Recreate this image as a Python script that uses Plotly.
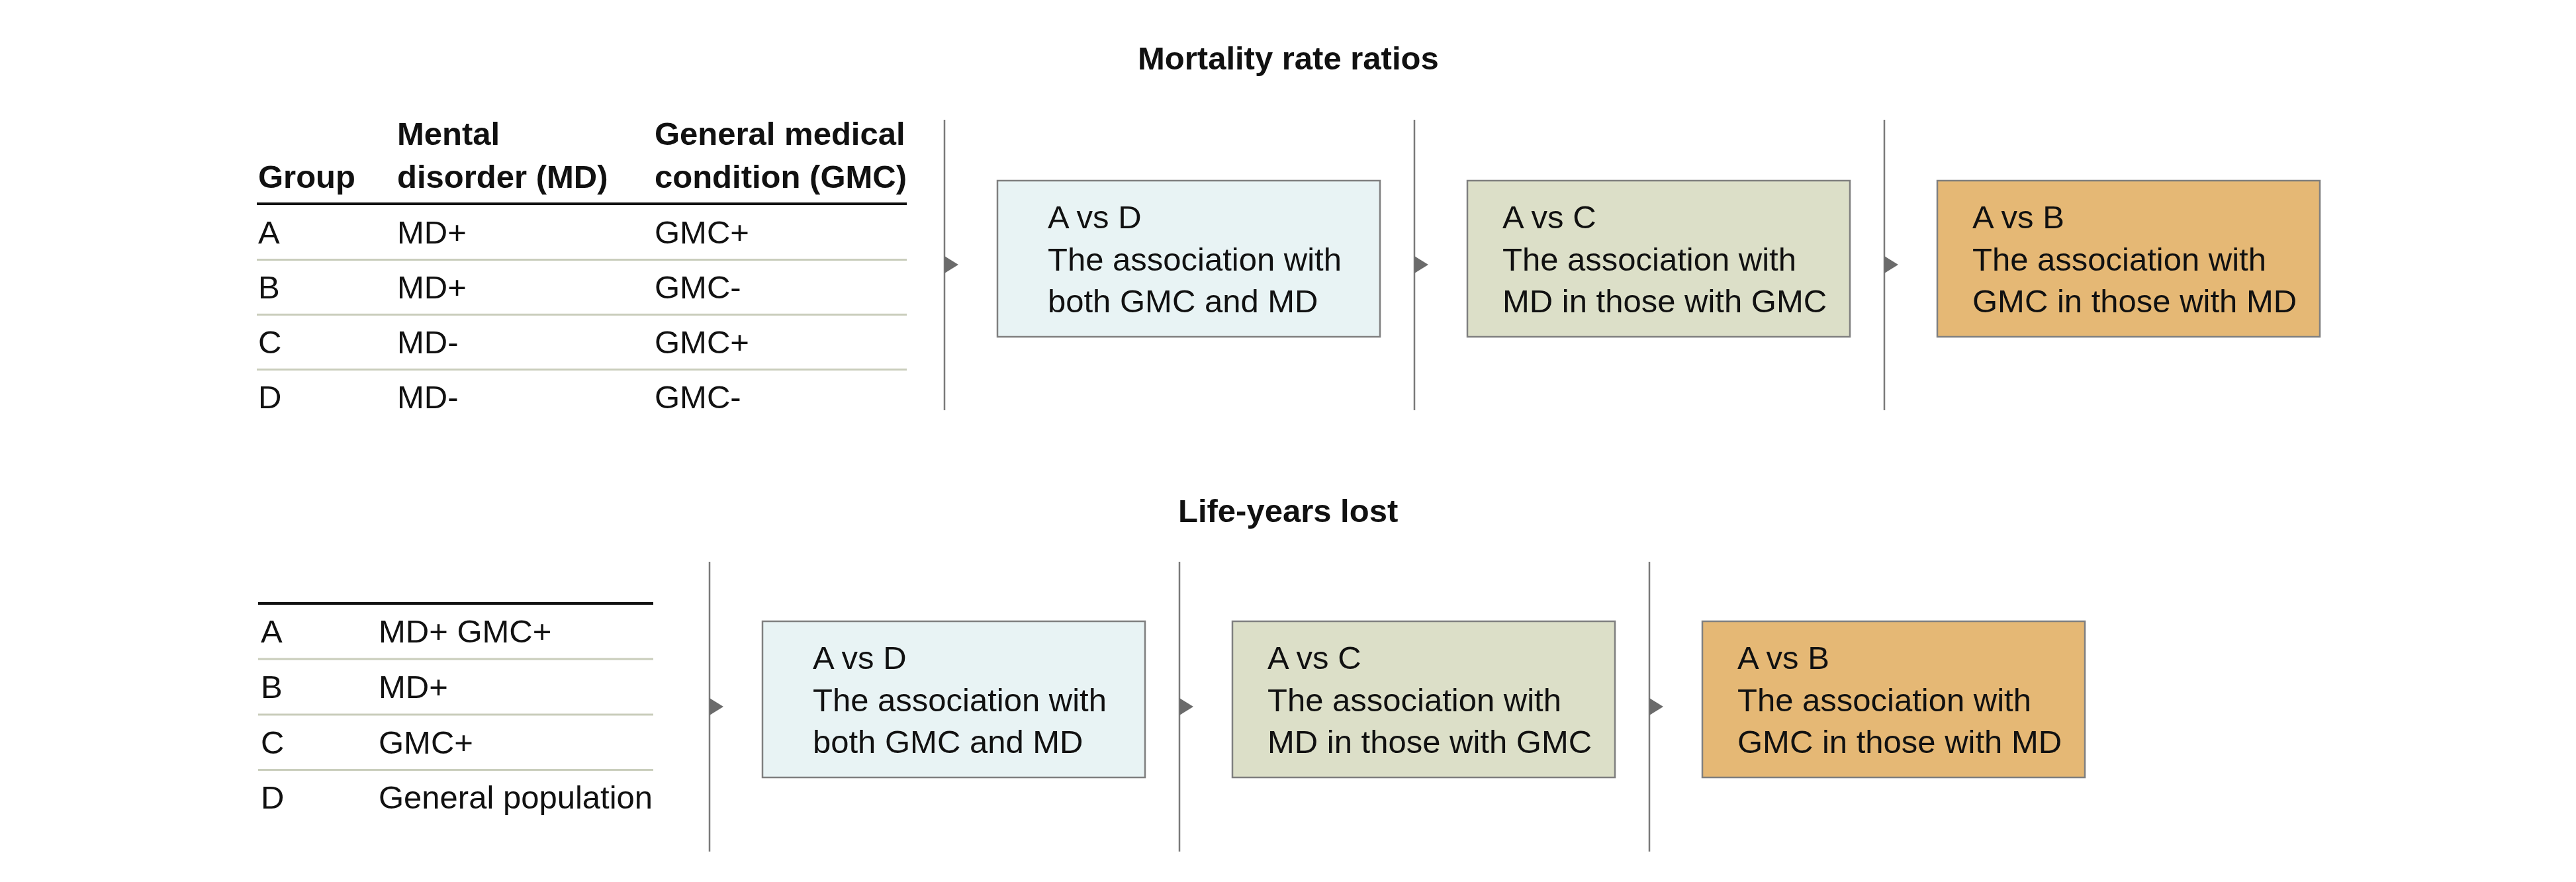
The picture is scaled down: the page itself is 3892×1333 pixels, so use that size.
import plotly.graph_objects as go

# ---------------- data ----------------
mrr_title = "Mortality rate ratios"
lyl_title = "Life-years lost"
header_group = ["", "Group"]
header_md = ["Mental", "disorder (MD)"]
header_gmc = ["General medical", "condition (GMC)"]
groups = ["A", "B", "C", "D"]
md_status = ["MD+", "MD+", "MD-", "MD-"]
gmc_status = ["GMC+", "GMC-", "GMC+", "GMC-"]
lyl_labels = ["MD+ GMC+", "MD+", "GMC+", "General population"]
comparisons = ["A vs D", "A vs C", "A vs B"]
desc_line1 = ["The association with", "The association with", "The association with"]
desc_line2 = ["both GMC and MD", "MD in those with GMC", "GMC in those with MD"]
box_colors = ["#E8F3F4", "#DCDFC8", "#E5B875"]

# ---------------- layout constants ----------------
W, H = 3892, 1333
PAGE_OFF = 8  # default body margin of the html page
FONT = "Liberation Sans, Arial, sans-serif"
FS = 49
TXT = "#111111"
LINE_GRAY = "#7A7A7A"
SEP = "#C9CDBB"
STEP = 710
BOX_W = 578
TEXT_SHIFT = 9

fig = go.Figure()
shapes = []
ann = []


def text(x, y, s, bold=False, xanchor="left", size=FS, align="left"):
    ann.append(dict(x=x, y=y, xref="x", yref="y", text=(f"<b>{s}</b>" if bold else s),
                    showarrow=False, xanchor=xanchor, yanchor="middle", align=align,
                    font=dict(family=FONT, size=size, color=TXT)))


def hline(x0, x1, y, color, width):
    shapes.append(dict(type="line", xref="x", yref="y", x0=x0, x1=x1, y0=y, y1=y,
                       line=dict(color=color, width=width)))


def comparison_panel(vx0, y_top, y_bot, arrow_y, box_y0, box_y1):
    for i in range(3):
        vx = vx0 + i * STEP
        shapes.append(dict(type="line", xref="x", yref="y", x0=vx, x1=vx, y0=y_top, y1=y_bot,
                           line=dict(color=LINE_GRAY, width=2.5)))
        shapes.append(dict(type="path", xref="x", yref="y",
                           path=f"M {vx},{arrow_y-13} L {vx+21},{arrow_y} L {vx},{arrow_y+13} Z",
                           fillcolor="#6B6B6B", line=dict(width=0)))
        bx0 = vx + 80
        bx1 = bx0 + BOX_W
        shapes.append(dict(type="rect", xref="x", yref="y", x0=bx0, x1=bx1, y0=box_y0, y1=box_y1,
                           fillcolor=box_colors[i], line=dict(color="#7F7F7F", width=2.5),
                           layer="below"))
        cx = (bx0 + bx1) / 2 + TEXT_SHIFT
        body = "<br>".join([comparisons[i], desc_line1[i], desc_line2[i]])
        ann.append(dict(x=cx, y=(box_y0 + box_y1) / 2, xref="x", yref="y", text=body,
                        showarrow=False, xanchor="center", yanchor="middle", align="left",
                        font=dict(family=FONT, size=FS, color=TXT)))


# ---------------- top section: mortality rate ratios ----------------
text(W / 2, 88, mrr_title, bold=True, xanchor="center")
col_x = [388, 598, 987]
for j, hdr in enumerate([header_group, header_md, header_gmc]):
    for k, line in enumerate(hdr):
        if line:
            text(col_x[j], [202, 267][k], line, bold=True)
hline(388, 1370, 308, "#111111", 4)
row_y = [351, 434, 517, 600]
for r in range(4):
    text(col_x[0], row_y[r], groups[r])
    text(col_x[1], row_y[r], md_status[r])
    text(col_x[2], row_y[r], gmc_status[r])
    if r < 3:
        hline(388, 1370, (row_y[r] + row_y[r + 1]) / 2, SEP, 3)
comparison_panel(1427, 181, 620, 400, 273, 509)

# ---------------- bottom section: life-years lost ----------------
text(W / 2, 772, lyl_title, bold=True, xanchor="center")
hline(390, 987, 912, "#111111", 4)
row_y2 = [954, 1038, 1122, 1205]
for r in range(4):
    text(392, row_y2[r], groups[r])
    text(570, row_y2[r], lyl_labels[r])
    if r < 3:
        hline(390, 987, (row_y2[r] + row_y2[r + 1]) / 2, SEP, 3)
comparison_panel(1072, 849, 1287, 1068, 939, 1175)

fig.update_layout(
    width=W, height=H, margin=dict(l=0, r=0, t=0, b=0),
    paper_bgcolor="white", plot_bgcolor="white",
    xaxis=dict(range=[PAGE_OFF, W + PAGE_OFF], visible=False, fixedrange=True),
    yaxis=dict(range=[H + PAGE_OFF, PAGE_OFF], visible=False, fixedrange=True),
    shapes=shapes, annotations=ann, showlegend=False,
)
fig.write_html("out.html")
